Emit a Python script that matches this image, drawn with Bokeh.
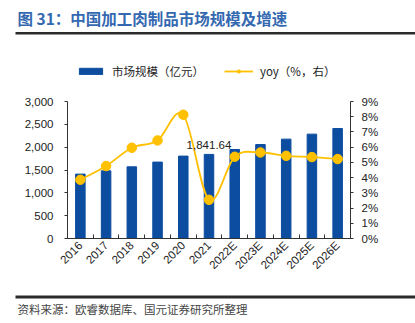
from bokeh.plotting import figure
from bokeh.layouts import column, row
from bokeh.models import (Range1d, LinearAxis, FixedTicker, SingleIntervalTicker,
                          NumeralTickFormatter, PrintfTickFormatter,
                          Legend, LegendItem)
from bokeh.embed import file_html
from bokeh.resources import INLINE
from bokeh.core.properties import value
import math

categories = ["2016", "2017", "2018", "2019", "2020", "2021",
              "2022E", "2023E", "2024E", "2025E", "2026E"]
market_size = [1410, 1482, 1570, 1673, 1804, 1841.64, 1949, 2058, 2176, 2285, 2409]
yoy_pct = [3.86, 4.76, 5.96, 6.44, 8.13, 2.54, 5.37, 5.65, 5.43, 5.35, 5.22]
left_ticks_step = 500
right_ticks_step = 1

title_text = "图 31：中国加工肉制品市场规模及增速"
source_text = "资料来源：欧睿数据库、国元证券研究所整理"
bar_label = "市场规模（亿元）"
line_label = "yoy（%，右）"
annotated_index = 5
annotated_text = "1,841.64"

BAR = "#0C4DA0"
LINE = "#FFC000"
AX = "#333333"
RULE = "#2b2b2b"
CJK = "Noto Sans CJK SC"
LAT = "Liberation Sans"
W = 415


def blank(h):
    f = figure(width=W, height=h, output_backend="svg", toolbar_location=None,
               x_range=Range1d(0, W), y_range=Range1d(h, 0),
               x_axis_location=None, y_axis_location=None,
               min_border=0, min_border_left=0, min_border_right=0,
               min_border_top=0, min_border_bottom=0)
    f.grid.visible = False
    f.outline_line_color = None
    f.background_fill_color = "white"
    f.border_fill_color = "white"
    return f


# ---------- header: title ----------
head = blank(30)
head.text(x=[17], y=[17], text=[title_text], text_baseline="middle", text_align="left",
          text_font=value(CJK), text_font_size="15.5px", text_font_style="bold",
          text_color="#3468B0")

# ---------- rule under the title + legend strip ----------
leg = blank(60)
leg.quad(left=[15], right=[W], top=[1.6], bottom=[3.9], fill_color=RULE, line_color=None)
lg_bar = leg.quad(left=[-10], right=[-9], top=[-10], bottom=[-9], fill_color=BAR, line_color=BAR)
lg_line = leg.line(x=[-10, -9], y=[-10, -10], line_color=LINE, line_width=1.8)
lg_dot = leg.scatter(x=[-10], y=[-10], size=9.5, fill_color=LINE, line_color=LINE)
legend = Legend(items=[LegendItem(label=bar_label, renderers=[lg_bar]),
                       LegendItem(label=line_label, renderers=[lg_line, lg_dot])],
                orientation="horizontal", location=(76, 11),
                glyph_width=29, glyph_height=8, label_standoff=7, spacing=20,
                padding=0, margin=0, border_line_color=None, background_fill_alpha=0,
                label_text_font=CJK, label_text_font_size="11.5px", label_text_color="#222222",
                label_height=12)
leg.add_layout(legend, "center")

# ---------- main chart ----------
n = len(categories)
xs = list(range(n))

p = figure(width=W, height=200, output_backend="svg", toolbar_location=None,
           x_range=Range1d(-0.5, n - 0.5), y_range=Range1d(0, 3000),
           min_border_left=67, min_border_right=65, min_border_top=11, min_border_bottom=52)
p.outline_line_color = None
p.xgrid.grid_line_color = None
p.ygrid.grid_line_color = None
p.background_fill_color = "white"
p.border_fill_color = "white"
p.extra_y_ranges = {"yoy": Range1d(0, 9)}

xa = p.xaxis[0]
xa.ticker = FixedTicker(ticks=xs, minor_ticks=[i - 0.5 for i in range(n + 1)])
xa.major_label_overrides = {i: c for i, c in enumerate(categories)}
xa.major_label_orientation = math.pi / 4
xa.major_tick_in = 0
xa.major_tick_out = 0
xa.minor_tick_in = 4
xa.minor_tick_out = 0
xa.minor_tick_line_color = AX
xa.axis_line_color = AX
xa.major_label_text_font = LAT
xa.major_label_text_font_size = "11.5px"
xa.major_label_text_color = "#222222"
xa.major_label_standoff = 5

ya = p.yaxis[0]
ya.ticker = SingleIntervalTicker(interval=left_ticks_step)
ya.formatter = NumeralTickFormatter(format="0,0")
ya.minor_tick_line_color = None
ya.major_tick_in = 0
ya.major_tick_out = 3
ya.axis_line_color = AX
ya.major_tick_line_color = AX
ya.major_label_text_font = LAT
ya.major_label_text_font_size = "11.5px"
ya.major_label_text_color = "#222222"
ya.major_label_standoff = 10

ra = LinearAxis(y_range_name="yoy", ticker=SingleIntervalTicker(interval=right_ticks_step),
                formatter=PrintfTickFormatter(format="%d%%"))
ra.minor_tick_line_color = None
ra.major_tick_in = 0
ra.major_tick_out = 3
ra.axis_line_color = AX
ra.major_tick_line_color = AX
ra.major_label_text_font = LAT
ra.major_label_text_font_size = "11.5px"
ra.major_label_text_color = "#222222"
ra.major_label_standoff = 7
p.add_layout(ra, "right")

p.vbar(x=xs, top=market_size, width=0.37, fill_color=BAR, line_color=BAR)

# smooth line: Catmull-Rom spline drawn as cubic Bezier segments through the data points
x0, y0, x1, y1, cx0, cy0, cx1, cy1 = [], [], [], [], [], [], [], []
for i in range(n - 1):
    pm = (xs[max(i - 1, 0)], yoy_pct[max(i - 1, 0)])
    pa = (xs[i], yoy_pct[i])
    pb = (xs[i + 1], yoy_pct[i + 1])
    pn = (xs[min(i + 2, n - 1)], yoy_pct[min(i + 2, n - 1)])
    x0.append(pa[0]); y0.append(pa[1]); x1.append(pb[0]); y1.append(pb[1])
    cx0.append(pa[0] + (pb[0] - pm[0]) / 6); cy0.append(pa[1] + (pb[1] - pm[1]) / 6)
    cx1.append(pb[0] - (pn[0] - pa[0]) / 6); cy1.append(pb[1] - (pn[1] - pa[1]) / 6)
p.bezier(x0=x0, y0=y0, x1=x1, y1=y1, cx0=cx0, cy0=cy0, cx1=cx1, cy1=cy1,
         line_color=LINE, line_width=1.8, y_range_name="yoy")
p.scatter(x=xs, y=yoy_pct, size=9.5, fill_color=LINE, line_color=LINE, y_range_name="yoy")

p.text(x=[xs[annotated_index]], y=[market_size[annotated_index]], text=[annotated_text],
       text_align="center", text_baseline="alphabetic", y_offset=-9,
       text_font=value(LAT), text_font_size="11.5px", text_color="#222222")

# ---------- footer: rule and source ----------
foot = blank(33)
foot.quad(left=[15], right=[W], top=[5], bottom=[8], fill_color=RULE, line_color=None)
foot.text(x=[17], y=[18], text=[source_text], text_baseline="middle", text_align="left",
          text_font=value(CJK), text_font_size="11.5px", text_color="#444444")

layout = column(row(head), row(leg), row(p), row(foot), spacing=0)
open("out.html", "w").write(file_html(layout, INLINE))
